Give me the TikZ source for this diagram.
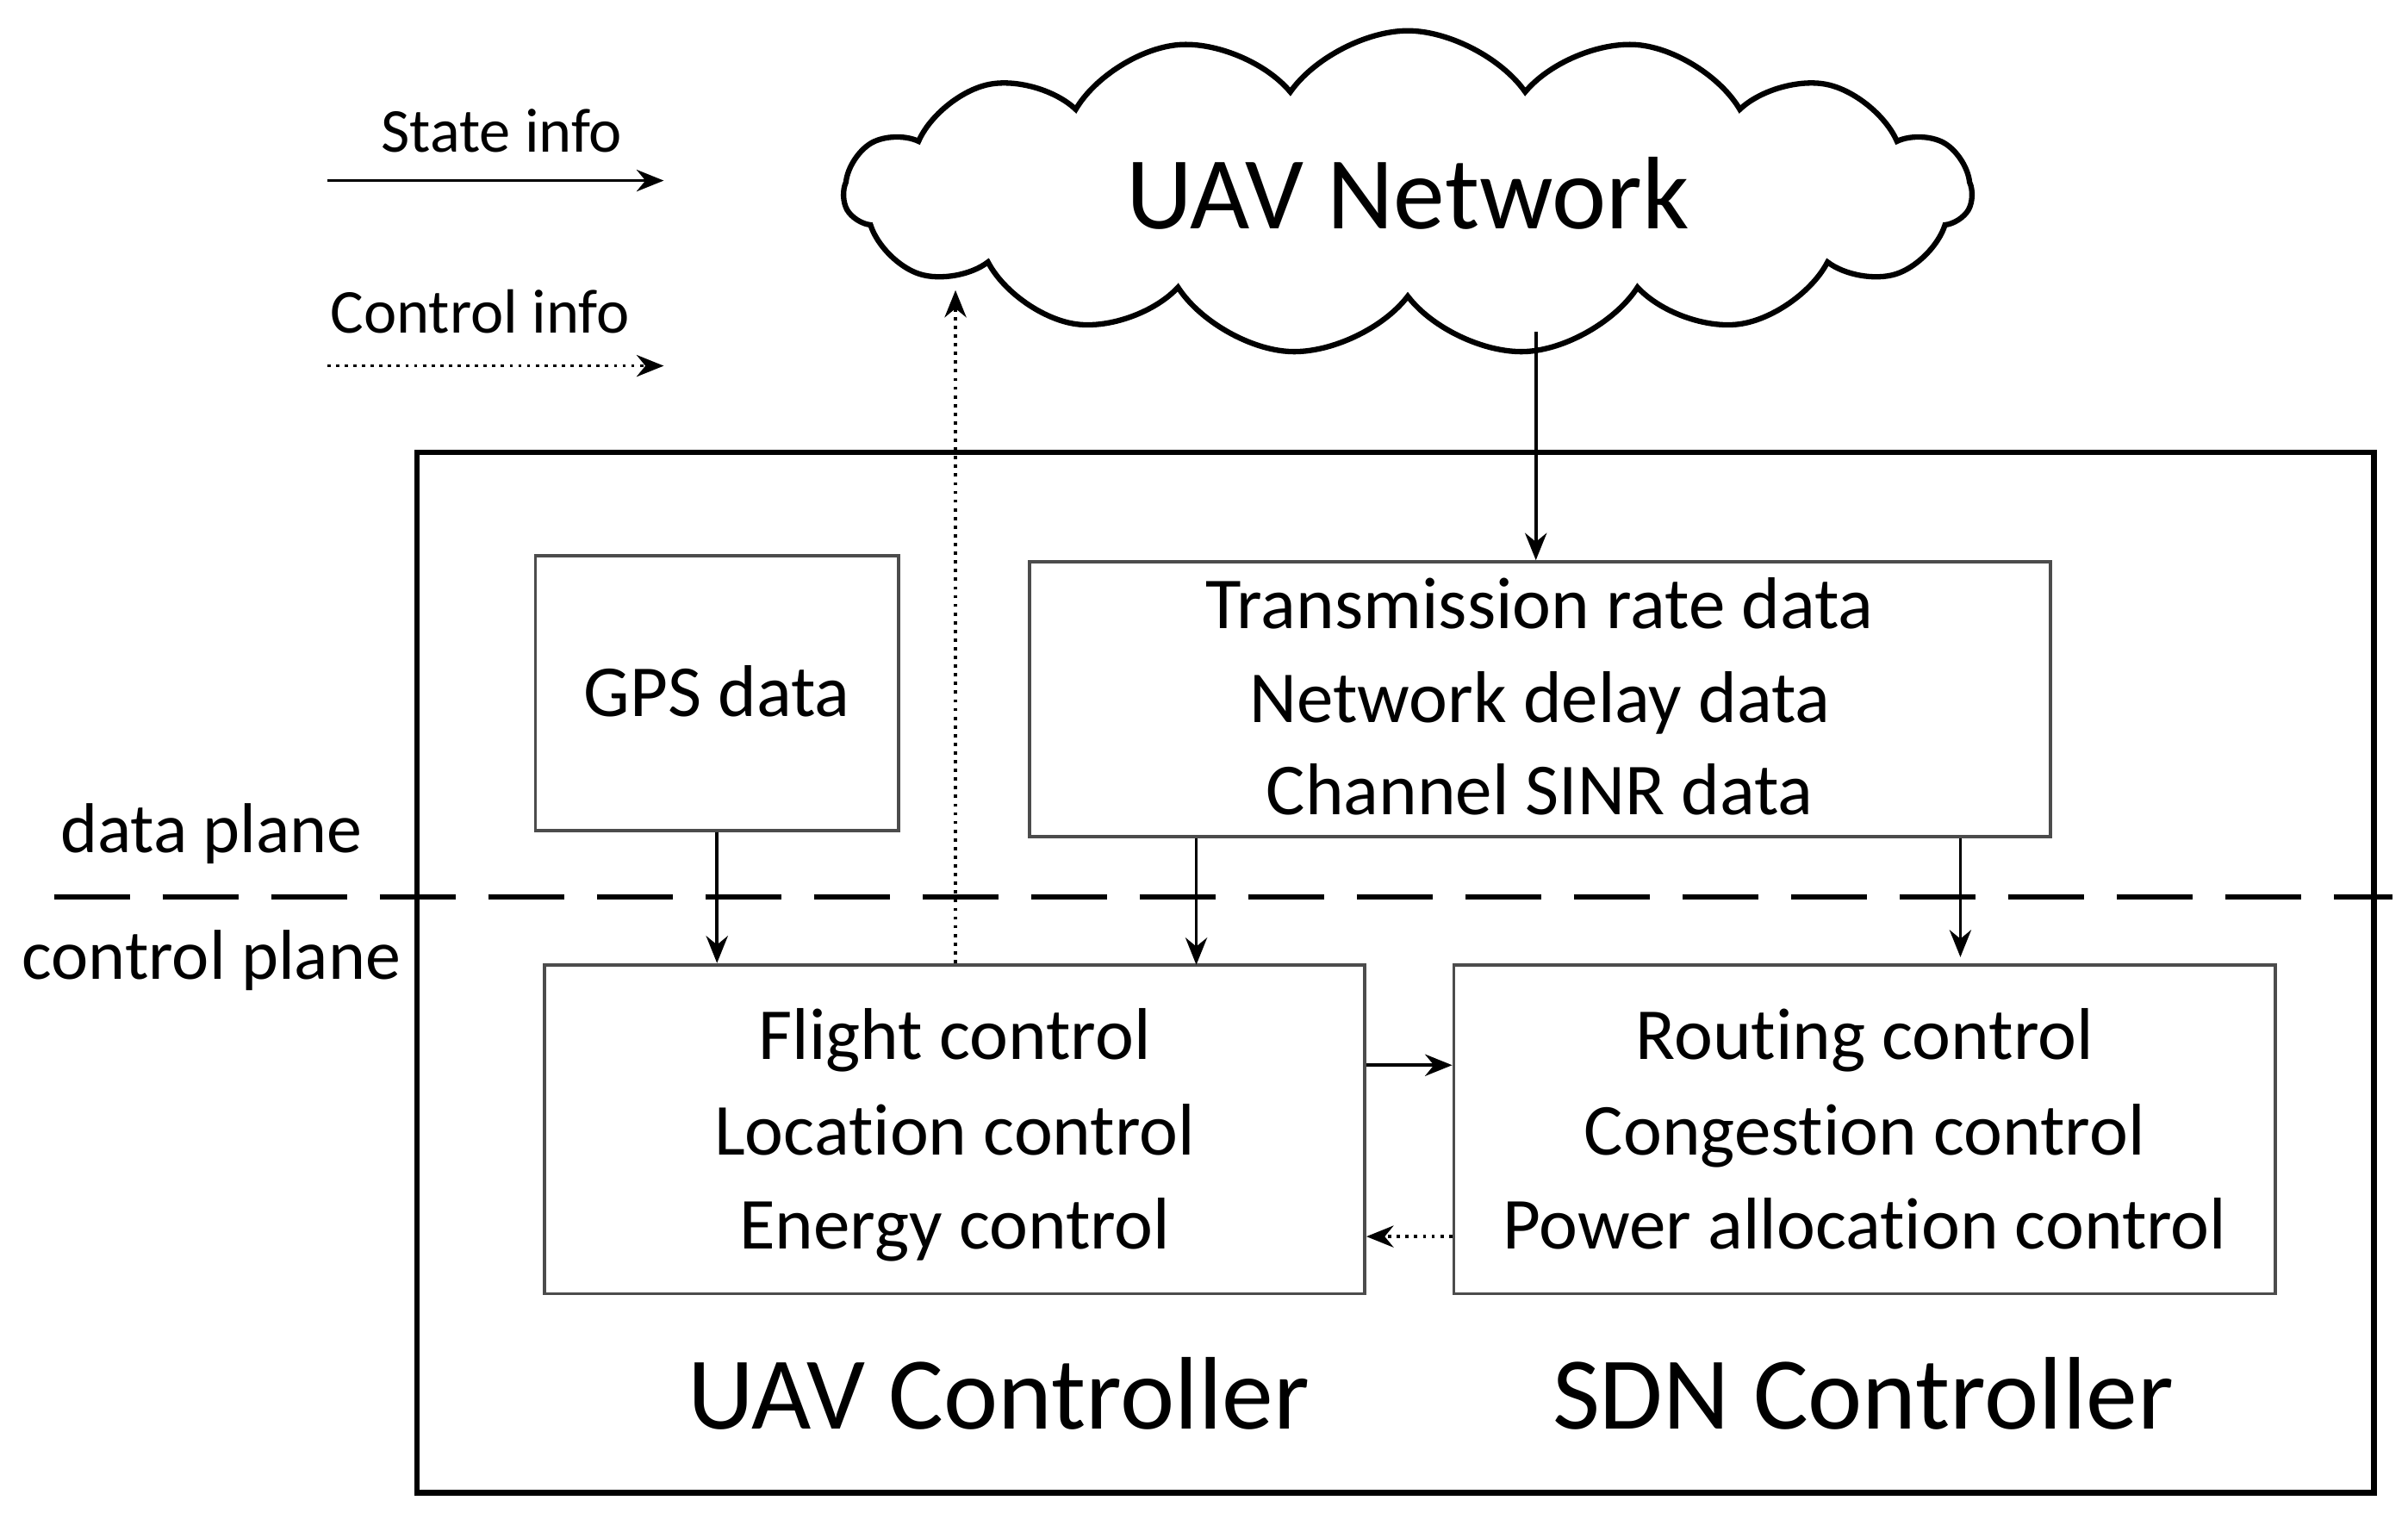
\documentclass[tikz,border=0pt]{standalone}
\usepackage{fontspec}
\setmainfont{Carlito}[Ligatures=NoCommon]
\usetikzlibrary{shapes.symbols,arrows.meta}
\begin{document}
\begin{tikzpicture}[x=0.01cm,y=-0.01cm,
 box/.style={draw=black!70,line width=0.6pt,inner sep=0pt},
 txt/.style={font=\fontsize{13.5}{17.5}\selectfont,align=center,anchor=base},
 arr/.style={-{Stealth[length=5pt,width=4pt]},line width=0.6pt},
 darr/.style={arr,densely dotted}]
\useasboundingbox (0,0) rectangle (1560,980);
\node[cloud,draw,line width=1pt,cloud puffs=15,cloud puff arc=110,aspect=3.6,minimum width=7.3cm,minimum height=2.1cm, inner sep=0pt] (cloud) at (912,125) {};
\node[font=\fontsize{19}{22}\selectfont] (un) at (912,125) {UAV Network};
\node[font=\fontsize{11.5}{14}\selectfont] (si) at (325,85) {State info};
\node[font=\fontsize{11.5}{14}\selectfont] (ci) at (311,202) {Control info};
\coordinate (l1a) at (212,117); \coordinate (l1b) at (430,117);
\coordinate (l2a) at (212,237); \coordinate (l2b) at (430,237);
\draw[arr] (l1a) -- (l1b);
\draw[darr] (l2a) -- (l2b);
\draw[line width=1pt] (270,293) rectangle (1538,967);
\node[box,minimum width=2.35cm,minimum height=1.78cm] (gps) at (464.5,449) {};
\node[txt] at (464.5,464) {GPS data};
\node[box,minimum width=6.61cm,minimum height=1.78cm] (tr) at (997.5,453) {};
\node[txt] at (997.5,407) {Transmission rate data};
\node[txt] at (997.5,468) {Network delay data};
\node[txt] at (997.5,528) {Channel SINR data};
\draw[line width=1pt,dash pattern=on 14pt off 6pt] (35,581) -- (1550,581);
\node[font=\fontsize{13}{16}\selectfont] (dp) at (137,540) {data plane};
\node[font=\fontsize{13}{16}\selectfont] (cp) at (137,622) {control plane};
\node[box,minimum width=5.31cm,minimum height=2.13cm] (uav) at (618.5,731.5) {};
\node[txt] at (618.5,686) {Flight control};
\node[txt] at (618.5,748) {Location control};
\node[txt] at (618.5,809) {Energy control};
\node[box,minimum width=5.32cm,minimum height=2.13cm] (sdn) at (1208,731.5) {};
\node[txt] at (1208,686) {Routing control};
\node[txt] at (1208,748) {Congestion control};
\node[txt] at (1208,809) {Power allocation control};
\node[font=\fontsize{19}{22}\selectfont] (uc) at (647,903) {UAV Controller};
\node[font=\fontsize{19}{22}\selectfont] (sc) at (1207,903) {SDN Controller};
\draw[arr] (gps.south) -- (gps.south |- uav.north);
\draw[arr] (tr.south -| 775,0) -- (775,625);
\draw[arr] (tr.south -| 1270,0) -- (1270,620);
\draw[arr] (995,215) -- (tr.north -| 995,0);
\draw[darr] (uav.north -| 619,0) -- (619,188);
\draw[arr] (uav.east |- 0,690) -- (sdn.west |- 0,690);
\draw[darr] (sdn.west |- 0,801) -- (uav.east |- 0,801);
\end{tikzpicture}
\end{document}
